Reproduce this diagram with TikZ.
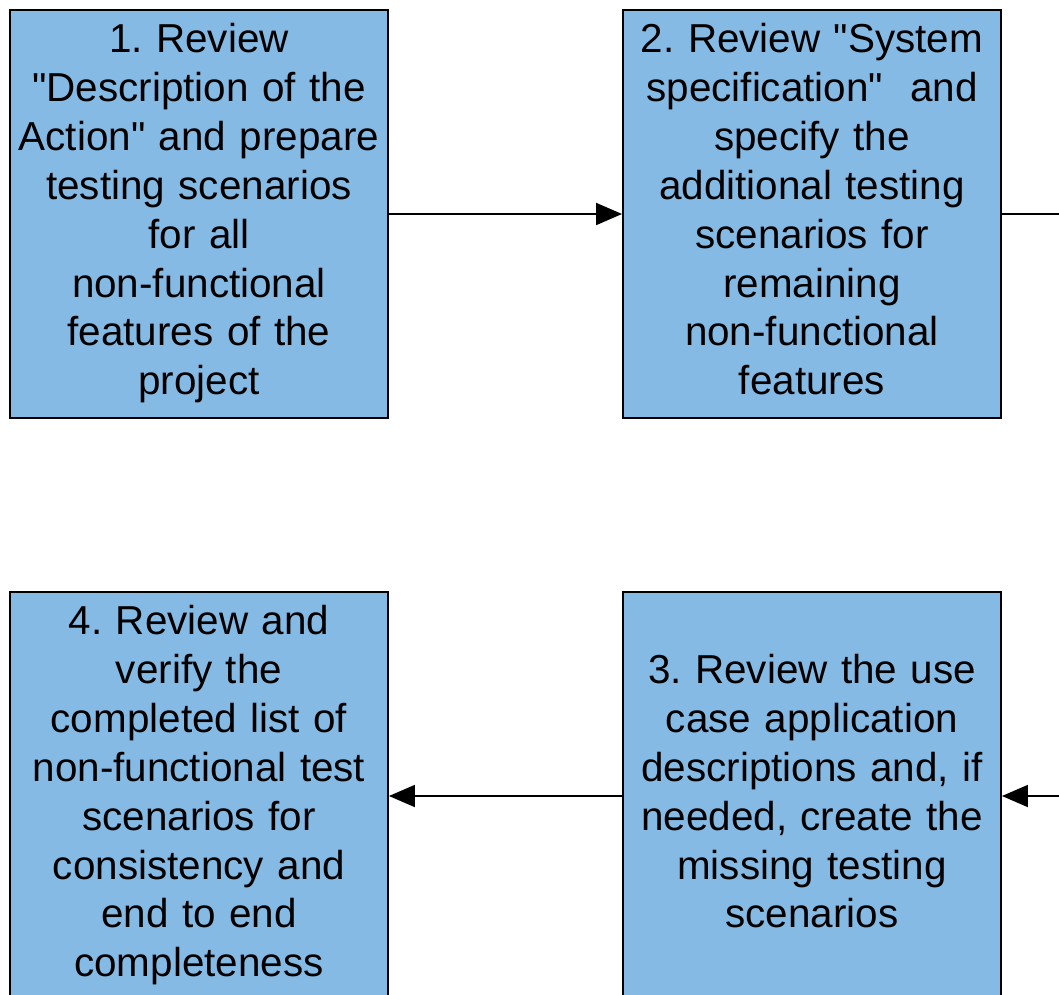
\documentclass[tikz,border=0pt]{standalone}
\usepackage{fontspec}
\setmainfont{Liberation Sans}[Ligatures=TeXOff]
\usepackage{tikz}
\usetikzlibrary{arrows.meta,positioning}
\definecolor{boxblue}{RGB}{133,186,228}
\frenchspacing

\begin{document}
\begin{tikzpicture}[
    every node/.style={font=\fontsize{23pt}{27.8pt}\selectfont},
    task/.style={draw=black, line width=1.1pt, fill=boxblue, minimum width=7.56cm, minimum height=8.16cm, text width=7.5cm, align=center, inner sep=0pt, execute at begin node=\strut, execute at end node=\strut},
    arr/.style={-{Triangle[length=5.2mm, width=4.4mm]}, line width=1.1pt}
]
    \useasboundingbox (0,0) rectangle (21.18,-19.88);
    \clip (0,0) rectangle (21.18,-19.88);

    \node[task] (review1) at (3.98,-4.28) {1. Review\\"Description of the\\Action" and prepare\\testing scenarios\\for all\\non-functional\\features of the\\project};
    \node[task] (review2) at (16.24,-4.28) {2. Review "System\\specification"\ \ and\\specify the\\additional testing\\scenarios for\\remaining\\non-functional\\features};
    \node[task] (review3) at (16.24,-15.92) {3. Review the use\\case application\\descriptions and, if\\needed, create the\\missing testing\\scenarios};
    \node[task] (review4) at (3.98,-15.92) {4. Review and\\verify the\\completed list of\\non-functional test\\scenarios for\\consistency and\\end to end\\completeness};

    % the link from 2 to 3 runs outside the visible part
    \coordinate (out2) at (21.6,-4.28);
    \coordinate (in3) at (21.6,-15.92);

    \draw[arr] (review1) -- (review2);
    \draw[line width=1.1pt] (review2) -- (out2);
    \draw[arr] (in3) -- (review3);
    \draw[arr] (review3) -- (review4);
\end{tikzpicture}
\end{document}
